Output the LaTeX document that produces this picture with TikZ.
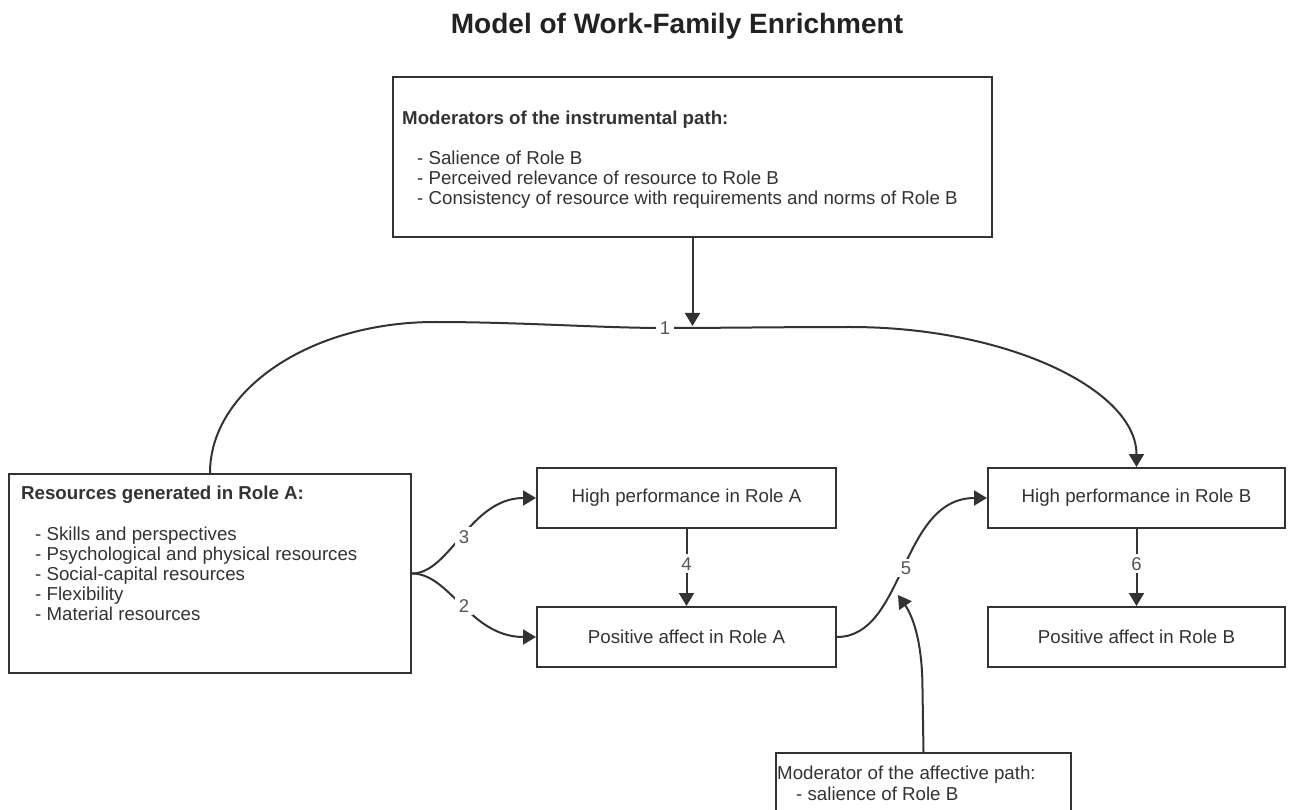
\documentclass[tikz,border=0pt]{standalone}
\usepackage{fontspec}
\setmainfont{Liberation Sans}
\usetikzlibrary{arrows.meta}
\definecolor{ink}{HTML}{333333}
\definecolor{lblgray}{HTML}{555555}
\definecolor{titlecol}{HTML}{222222}
\begin{document}
\begin{tikzpicture}[x=1pt,y=-1pt,
  box/.style={draw=ink, line width=2pt, fill=white, inner sep=0pt},
  txt/.style={text=ink, font=\fontsize{18.7}{20}\selectfont},
  conn/.style={draw=ink, line width=2pt, -{Triangle[length=13pt,width=15pt]}},
  lbl/.style={fill=white, text=lblgray, font=\fontsize{18.5}{20}\selectfont, inner xsep=4pt, inner ysep=3pt},
]
\useasboundingbox (0,0) rectangle (1291,810);
\clip (0,0) rectangle (1291,810);

% title
\node[anchor=base, text=titlecol, font=\bfseries\fontsize{28}{30}\selectfont] (title) at (677,34) {Model of Work-Family Enrichment};

% moderators of the instrumental path
\node[box, minimum width=599pt, minimum height=160pt] (mod1) at (692.5,157) {};
\node[txt, anchor=north west, align=left, inner sep=0pt] (mod1text) at (402,111) {\textbf{Moderators of the instrumental path:}\\[20pt]
\hspace*{15pt}- Salience of Role B\\
\hspace*{15pt}- Perceived relevance of resource to Role B\\
\hspace*{15pt}- Consistency of resource with requirements and norms of Role B};

% resources
\node[box, minimum width=402pt, minimum height=199pt] (res) at (210,573.5) {};
\node[txt, anchor=north west, align=left, inner sep=0pt] (restext) at (21,486) {\textbf{Resources generated in Role A:}\\[20.5pt]
\hspace*{14pt}- Skills and perspectives\\
\hspace*{14pt}- Psychological and physical resources\\
\hspace*{14pt}- Social-capital resources\\
\hspace*{14pt}- Flexibility\\
\hspace*{14pt}- Material resources};

% role boxes
\node[box, txt, minimum width=299pt, minimum height=60pt] (hpa) at (686.5,498) {High performance in Role A};
\node[box, txt, minimum width=299pt, minimum height=60pt] (paa) at (686.5,637) {Positive affect in Role A};
\node[box, txt, minimum width=297pt, minimum height=60pt] (hpb) at (1136.5,498) {High performance in Role B};
\node[box, txt, minimum width=297pt, minimum height=60pt] (pab) at (1136.5,637) {Positive affect in Role B};

% moderator of the affective path
\node[box, minimum width=295pt, minimum height=90pt, anchor=north west] (modaff) at (775,752) {};
\node[txt, anchor=north west, align=left, inner sep=0pt] (modafftext) at (777,766) {Moderator of the affective path:\\[1pt]
\hspace*{19pt}- salience of Role B};

% path 1
\coordinate (c1) at (692.5,326);
\draw[conn] (res.north) .. controls (210,390) and (310,322) .. (435,322)
  .. controls (520,322) and (600,328) .. (665,328)
  .. controls (720,328) and (780,327) .. (850,327)
  .. controls (1008,327) and (1136.5,390) .. (hpb.north);
\node[lbl] (l1) at (665,328) {1};
\draw[conn] (mod1.south) -- (c1);

% paths 3 and 2
\draw[conn] (res.east) .. controls (450,573.5) and (470,498) .. (hpa.west);
\node[lbl] (l3) at (464,537) {3};
\draw[conn] (res.east) .. controls (450,573.5) and (470,637) .. (paa.west);
\node[lbl] (l2) at (464,606) {2};

% paths 4 and 6
\draw[conn] (hpa.south) -- (paa.north) node[lbl, pos=0.45] (l4) {4};
\draw[conn] (hpb.south) -- (pab.north) node[lbl, pos=0.45] (l6) {6};

% path 5
\draw[conn] (paa.east) .. controls (905,637) and (900,498) .. (hpb.west);
\node[lbl] (l5) at (906,568) {5};

% affective moderator arrow
\coordinate (c5) at (898,595);
\draw[conn] (modaff.north) -- (922.5,690) .. controls (922.5,640) and (912,615) .. (c5);
\end{tikzpicture}
\end{document}
